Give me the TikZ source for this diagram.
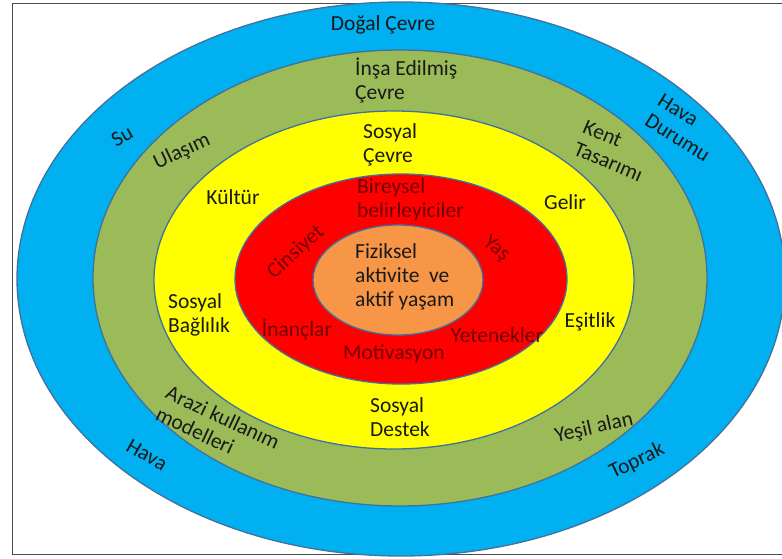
\documentclass[tikz,border=0pt]{standalone}
\usepackage{fontspec}
\setmainfont{Carlito}
\usetikzlibrary{positioning}
\definecolor{natblue}{HTML}{00B0F0}
\definecolor{builtgreen}{HTML}{9BBB59}
\definecolor{socyellow}{HTML}{FFFF00}
\definecolor{indred}{HTML}{FF0000}
\definecolor{coreorange}{HTML}{F79646}
\definecolor{ringline}{HTML}{41719C}
\definecolor{darkred}{HTML}{700000}

\begin{document}
\begin{tikzpicture}[
    x=1pt, y=-1pt,
    font=\fontsize{21.5}{24}\selectfont,
    ring/.style={draw=ringline, line width=1.3pt},
    lbl/.style={inner sep=0pt, align=left, text=black!90},
    inlbl/.style={lbl, text=darkred},
  ]
    \useasboundingbox (0,0) rectangle (782,558);
    \clip (0,0) rectangle (782,558);
    \draw[black!70, line width=1pt] (12,3) rectangle (800,554);

    % rings, outside in
    \draw[ring, fill=natblue] (401,279) ellipse [x radius=384pt, y radius=277pt];
    \draw[ring, fill=builtgreen] (400,278) ellipse [x radius=307pt, y radius=228pt];
    \draw[ring, fill=socyellow] (394,280) ellipse [x radius=240pt, y radius=169pt];
    \draw[ring, fill=indred] (401,279) ellipse [x radius=166pt, y radius=105pt];
    \draw[ring, fill=coreorange] (398,280) ellipse [x radius=85pt, y radius=55pt];

    % natural environment
    \node[lbl] (dc) at (383,25) {Doğal Çevre};
    \node[lbl, rotate=30] (su) at (122,136) {Su};
    \node[lbl, rotate=-32] (hd) at (684,128) {Hava\\Durumu};
    \node[lbl, rotate=-30] (hv) at (147,455) {Hava};
    \node[lbl, rotate=26] (tp) at (637,461) {Toprak};

    % built environment
    \node[lbl, anchor=west] (ie) at (355,81) {İnşa Edilmiş\\Çevre};
    \node[lbl, rotate=25] (ul) at (182,152) {Ulaşım};
    \node[lbl, rotate=-23] (kt) at (613,151) {Kent\\Tasarımı};
    \node[lbl, rotate=-25] (ak) at (218,428) {Arazi kullanım\\modelleri};
    \node[lbl, rotate=13] (yl) at (594,428) {Yeşil alan};

    % social environment
    \node[lbl, anchor=west] (sc) at (363,145) {Sosyal\\Çevre};
    \node[lbl] (ku) at (233,197) {Kültür};
    \node[lbl] (ge) at (565,202) {Gelir};
    \node[lbl, anchor=west] (sb) at (168,315) {Sosyal\\Bağlılık};
    \node[lbl] (es) at (590,322) {Eşitlik};
    \node[lbl, anchor=west] (sd) at (370,417) {Sosyal\\Destek};

    % individual determinants
    \node[inlbl, anchor=west] (bb) at (357,200) {Bireysel\\belirleyiciler};
    \node[inlbl, rotate=42] (ci) at (296,252) {Cinsiyet};
    \node[inlbl, rotate=-39] (ya) at (496,249) {Yaş};
    \node[inlbl] (in) at (297,330) {İnançlar};
    \node[inlbl] (ye) at (497,335) {Yetenekler};
    \node[inlbl] (mo) at (394,354) {Motivasyon};

    % core
    \node[lbl, anchor=west] (fa) at (355,277) {Fiziksel\\aktivite~ ve\\aktif yaşam};
\end{tikzpicture}
\end{document}
